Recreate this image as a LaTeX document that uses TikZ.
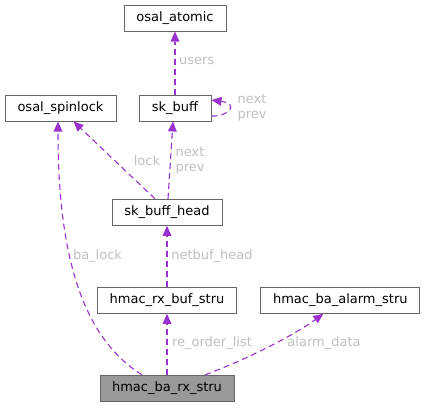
\documentclass[tikz,border=0pt]{standalone}
\usepackage{fontspec}
\setmainfont{DejaVu Sans}
\usetikzlibrary{arrows.meta,calc}
\definecolor{edgec}{HTML}{9A32CD}
\definecolor{labc}{HTML}{BFBFBF}
\definecolor{boxc}{HTML}{666666}
\begin{document}
\begin{tikzpicture}[x=1pt,y=-1pt,
  font=\fontsize{13}{15}\selectfont,
  box/.style={draw=boxc,line width=1pt,fill=white,inner sep=0pt,minimum height=26pt,text=black},
  rel/.style={draw=edgec,line width=1.1pt,dash pattern=on 6pt off 4pt,-{Triangle[length=10pt,width=9pt,fill=edgec,line width=0pt]}},
  lab/.style={text=labc,inner sep=0pt,align=center}]
\useasboundingbox (0,0) rectangle (425,407);
\node[box,minimum width=102pt] (atomic) at (175,18) {osal\_atomic};
\node[box,minimum width=111pt] (spin) at (60.5,108) {osal\_spinlock};
\node[box,minimum width=72pt] (skb) at (175,108) {sk\_buff};
\node[box,minimum width=110pt] (skbh) at (167,212.3) {sk\_buff\_head};
\node[box,minimum width=139pt] (rxbuf) at (167,300.3) {hmac\_rx\_buf\_stru};
\node[box,minimum width=159pt] (alarm) at (340.3,300.3) {hmac\_ba\_alarm\_stru};
\node[box,minimum width=134pt,fill=black!40] (barx) at (167,388.3) {hmac\_ba\_rx\_stru};

% sk_buff -> osal_atomic
\draw[rel] (skb.north) -- (atomic.south);
\node[lab,anchor=west] (lusers) at (179,61) {users};
% self loop
\draw[rel] ([yshift=-8pt]skb.east) .. controls (228,117) and (240,104) .. ([yshift=8pt]skb.east);
\node[lab] (lnp1) at (252,107.5) {next\\prev};
% sk_buff_head -> sk_buff
\draw[rel] ([xshift=1pt]skbh.north) -- ([xshift=-2pt]skb.south);
\node[lab] (lnp2) at (190,160.5) {next\\prev};
% sk_buff_head -> osal_spinlock
\draw[rel] ([xshift=-12pt]skbh.north) -- ([xshift=13pt]spin.south);
\node[lab] (llock) at (147,160.7) {lock};
% hmac_rx_buf_stru -> sk_buff_head
\draw[rel] (rxbuf.north) -- (skbh.south);
\node[lab] (lnet) at (212,256) {netbuf\_head};
% hmac_ba_rx_stru -> osal_spinlock
\draw[rel] ([xshift=-25pt]barx.north) .. controls (78,335) and (58,245) .. ([xshift=-2.5pt]spin.south);
\node[lab] (lba) at (97.5,256) {ba\_lock};
% hmac_ba_rx_stru -> hmac_rx_buf_stru
\draw[rel] (barx.north) -- (rxbuf.south);
\node[lab] (lre) at (212,343.3) {re\_order\_list};
% hmac_ba_rx_stru -> hmac_ba_alarm_stru
\draw[rel] ([xshift=38pt]barx.north) .. controls (240,362) and (290,338) .. ([xshift=-17pt]alarm.south);
\node[lab] (lal) at (324,343.3) {alarm\_data};
\end{tikzpicture}
\end{document}
